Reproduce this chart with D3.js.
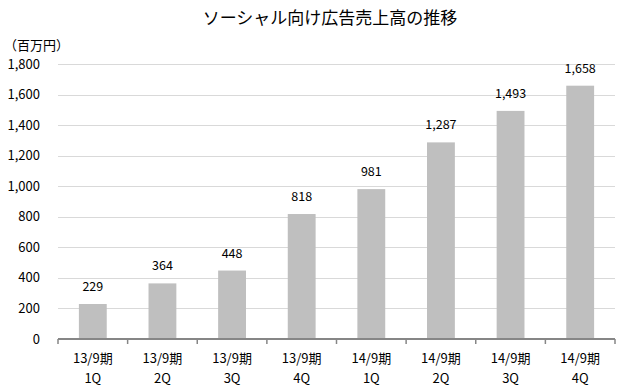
<!DOCTYPE html>
<meta charset="utf-8">
<style>
body {
  margin: 0;
  background-color: #ffffff;
}
svg text {
  font-family: "Noto Sans CJK JP", "Noto Sans", sans-serif;
  fill: #000;
}
.grid line {
  stroke: #d9d9d9;
  stroke-width: 1px;
  shape-rendering: crispEdges;
}
.grid path {
  display: none;
}
</style>
<body>
<script src="https://d3js.org/d3.v7.min.js"></script>
<script>
  var periods = ["13/9期", "13/9期", "13/9期", "13/9期", "14/9期", "14/9期", "14/9期", "14/9期"];
  var quarters = ["1Q", "2Q", "3Q", "4Q", "1Q", "2Q", "3Q", "4Q"];
  var sales = [229, 364, 448, 818, 981, 1287, 1493, 1658];
  var yTicks = [0, 200, 400, 600, 800, 1000, 1200, 1400, 1600, 1800];

  var W = 623, H = 391;
  var margin = {top: 64, right: 8, bottom: 52, left: 58};
  var width = W - margin.left - margin.right,
      height = H - margin.top - margin.bottom;

  var svg = d3.select("body").append("svg")
      .attr("width", W)
      .attr("height", H);

  // title
  svg.append("text")
      .attr("x", 330)
      .attr("y", 24)
      .attr("text-anchor", "middle")
      .style("font-size", "17px")
      .text("ソーシャル向け広告売上高の推移");

  svg.append("text")
      .attr("x", 4)
      .attr("y", 50)
      .style("font-size", "13px")
      .text("（百万円）");

  var g = svg.append("g")
      .attr("transform", "translate(" + margin.left + "," + margin.top + ")");

  var idx = d3.range(sales.length);
  var x = d3.scaleBand()
      .domain(idx)
      .range([0, width])
      .paddingInner(0.6)
      .paddingOuter(0.3);
  var band = d3.scaleBand().domain(idx).range([0, width]);
  var y = d3.scaleLinear()
      .domain([0, 1800])
      .range([height, 0]);

  // gridlines
  g.append("g")
      .attr("class", "grid")
      .call(d3.axisLeft(y).tickValues(yTicks.slice(1)).tickSize(-width).tickFormat(""));

  // y labels
  g.selectAll(".ylab")
      .data(yTicks)
    .enter().append("text")
      .attr("class", "ylab")
      .attr("x", -18)
      .attr("y", function(d) { return y(d); })
      .attr("dy", "0.35em")
      .attr("text-anchor", "end")
      .style("font-size", "13px")
      .text(function(d) { return d3.format(",")(d); });

  // bars
  g.selectAll(".bar")
      .data(idx)
    .enter().append("rect")
      .attr("class", "bar")
      .attr("x", function(i) { return x(i); })
      .attr("width", x.bandwidth())
      .attr("y", function(i) { return y(sales[i]); })
      .attr("height", function(i) { return height - y(sales[i]); })
      .attr("fill", "#bfbfbf");

  // value labels
  g.selectAll(".val")
      .data(idx)
    .enter().append("text")
      .attr("class", "val")
      .attr("x", function(i) { return x(i) + x.bandwidth() / 2; })
      .attr("y", function(i) { return y(sales[i]) - 13; })
      .attr("text-anchor", "middle")
      .style("font-size", "12.5px")
      .text(function(i) { return d3.format(",")(sales[i]); });

  // x axis line with tick marks at band boundaries
  var xAxis = g.append("g").attr("transform", "translate(0," + height + ")");
  xAxis.append("line")
      .attr("x1", 0).attr("x2", width)
      .attr("stroke", "#868686").attr("stroke-width", 2);
  xAxis.selectAll(".tk")
      .data(d3.range(sales.length + 1))
    .enter().append("line")
      .attr("x1", function(i) { return i * band.bandwidth(); })
      .attr("x2", function(i) { return i * band.bandwidth(); })
      .attr("y1", 0).attr("y2", 5)
      .attr("stroke", "#868686").attr("stroke-width", 1.5);

  var cat = xAxis.selectAll(".cat")
      .data(idx)
    .enter().append("text")
      .attr("class", "cat")
      .attr("text-anchor", "middle")
      .style("font-size", "13px")
      .attr("transform", function(i) { return "translate(" + (band(i) + band.bandwidth() / 2) + ",0)"; });
  cat.append("tspan").attr("x", 0).attr("y", 24).text(function(i) { return periods[i]; });
  cat.append("tspan").attr("x", 0).attr("y", 44).text(function(i) { return quarters[i]; });
</script>
</body>
